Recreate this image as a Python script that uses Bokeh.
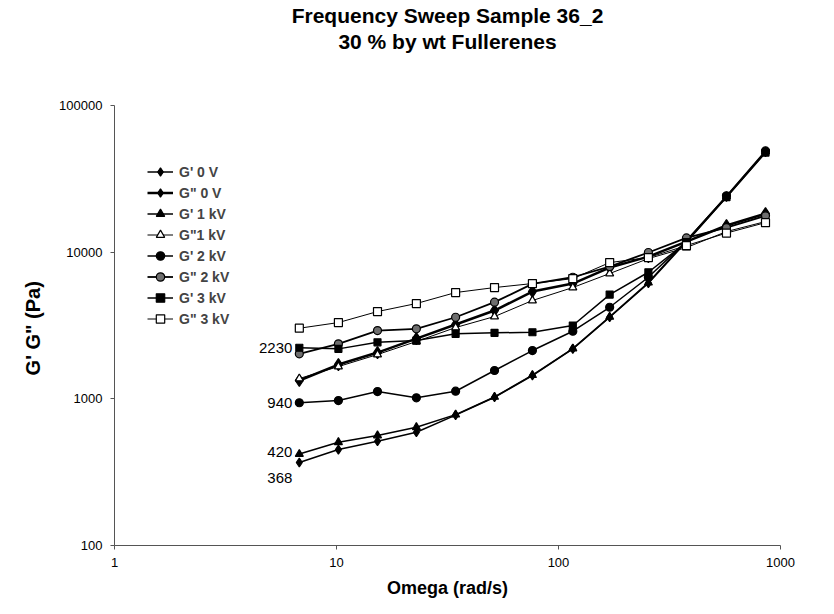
from bokeh.plotting import figure
from bokeh.models import Legend, LegendItem, FixedTicker, Range1d, NumeralTickFormatter, Label, Title
from bokeh.embed import file_html
from bokeh.resources import INLINE

# Angular frequency (rad/s)
omega = [6.8, 10.2, 15.3, 22.9, 34.4, 51.5, 76.3, 116, 170, 254, 377, 571, 856]

# Storage (G') and loss (G") moduli in Pa at each applied voltage
g1_0v = [368, 451, 514, 592, 775, 1025, 1442, 2191, 3600, 6140, 11800, 23800, 48000]
g2_0v = [1333, 1713, 2068, 2576, 3210, 4000, 5390, 6110, 7850, 9330, 11800, 15200, 18300]
g1_1kv = [420, 506, 562, 640, 780, 1030, 1450, 2200, 3620, 6200, 12000, 24000, 48500]
g2_1kv = [1375, 1660, 2004, 2460, 3063, 3640, 4680, 5740, 7150, 9040, 10750, 13810, 16170]
g1_2kv = [940, 973, 1121, 1016, 1127, 1560, 2134, 2890, 4210, 6745, 11900, 24200, 49000]
g2_2kv = [2027, 2371, 2922, 3000, 3600, 4560, 6080, 6745, 7980, 9950, 12500, 14700, 17700]
g1_3kv = [2230, 2191, 2430, 2497, 2775, 2818, 2845, 3162, 5140, 7295, 11690, 23700, 47750]
g2_3kv = [3030, 3311, 3936, 4465, 5305, 5737, 6110, 6607, 8492, 9187, 11090, 13500, 15900]

series_names = ["G' 0 V", 'G" 0 V', "G' 1 kV", 'G"1 kV',
                "G' 2 kV", 'G" 2 kV', "G' 3 kV", 'G" 3 kV']

x_ticks = [1, 10, 100, 1000]
y_ticks = [100, 1000, 10000, 100000]

title_lines = ["Frequency Sweep Sample 36_2", "30 % by wt Fullerenes"]

FONT = "Liberation Sans"

p = figure(width=834, height=614, x_axis_type="log", y_axis_type="log",
           x_range=Range1d(1, 1000), y_range=Range1d(100, 100000),
           output_backend="svg", toolbar_location=None, title=None,
           min_border_left=114, min_border_right=54,
           min_border_top=0, min_border_bottom=69)
p.outline_line_color = None
p.xgrid.visible = False
p.ygrid.visible = False
p.background_fill_color = "white"
p.border_fill_color = "white"

for ax in (p.xaxis, p.yaxis):
    ax.axis_line_color = "#555555"
    ax.axis_line_width = 1
    ax.major_tick_line_color = "#555555"
    ax.major_tick_in = 0
    ax.major_tick_out = 4
    ax.minor_tick_line_color = None
    ax.major_label_text_font = FONT
    ax.major_label_text_font_size = "13px"
    ax.major_label_text_color = "black"
    ax.axis_label_text_font = FONT
    ax.axis_label_text_font_style = "bold"
    ax.axis_label_text_font_size = "18px"
    ax.axis_label_text_color = "black"
    ax.formatter = NumeralTickFormatter(format="0")

p.xaxis.ticker = FixedTicker(ticks=x_ticks)
p.yaxis.ticker = FixedTicker(ticks=y_ticks)
p.xaxis.major_label_standoff = 8
p.yaxis.major_label_standoff = 8
p.xaxis.axis_label = "Omega (rad/s)"
p.yaxis.axis_label = "G'  G\" (Pa)"
p.yaxis.axis_label_text_font_size = "20px"
p.xaxis.axis_label_standoff = 8
p.yaxis.axis_label_standoff = 12

styles = [
    # data, marker, size, fill, line width
    (g1_0v, "diamond", 9, "black", 1.5),
    (g2_0v, "diamond", 12, "black", 2.5),
    (g1_1kv, "triangle", 8, "black", 1.5),
    (g2_1kv, "triangle", 8, "white", 1.0),
    (g1_2kv, "circle", 8, "black", 1.5),
    (g2_2kv, "circle", 8, "#6e6e6e", 1.8),
    (g1_3kv, "square", 7, "black", 1.5),
    (g2_3kv, "square", 8, "white", 1.0),
]

items = []
for name, (vals, marker, size, fill, lw) in zip(series_names, styles):
    ln = p.line(omega, vals, line_color="black", line_width=lw)
    sc = p.scatter(omega, vals, marker=marker, size=size, fill_color=fill,
                   line_color="black", line_width=1.2)
    items.append(LegendItem(label=name, renderers=[ln, sc]))

legend = Legend(items=items, location=(33, 216), padding=0, margin=0,
                spacing=0, glyph_height=21, glyph_width=26, label_standoff=6,
                label_text_font=FONT, label_text_font_style="bold",
                label_text_font_size="14px", label_height=21,
                border_line_color=None, background_fill_alpha=0)
p.add_layout(legend)

# starting values of G' printed next to the first points
for vals, dy in ((g1_3kv, 0), (g1_2kv, 0), (g1_1kv, 2), (g1_0v, -15)):
    p.add_layout(Label(x=omega[0], y=vals[0], text=str(vals[0]),
                       x_offset=-7, y_offset=dy, text_align="right",
                       text_baseline="middle", text_font=FONT,
                       text_font_size="15px", text_color="black"))

# blank band between the heading and the plot area
p.add_layout(Title(text=" ", standoff=29, text_font=FONT,
                   text_font_size="20px"), "above")
# heading lines, the lower one is added first so it sits nearer the plot
for line, gap in zip(reversed(title_lines), (0, 2)):
    p.add_layout(Title(text=line, align="center", offset=11, standoff=gap,
                       text_font=FONT, text_font_style="bold",
                       text_font_size="21px", text_color="black"), "above")

open("out.html", "w").write(file_html(p, INLINE))
